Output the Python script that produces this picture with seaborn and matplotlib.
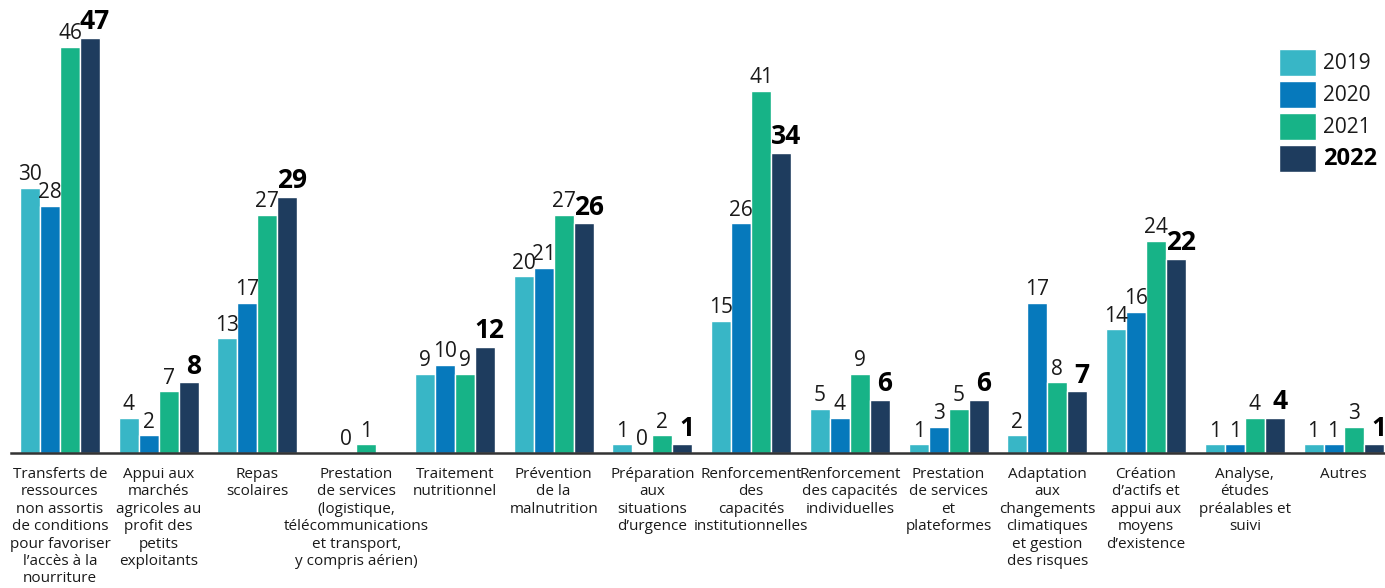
import numpy as np
import pandas as pd
import seaborn as sns
import matplotlib.pyplot as plt

categories = [
    "Transferts de\nressources\nnon assortis\nde conditions\npour favoriser\nl’accès à la\nnourriture",
    "Appui aux\nmarchés\nagricoles au\nprofit des\npetits\nexploitants",
    "Repas\nscolaires",
    "Prestation\nde services\n(logistique,\ntélécommunications\net transport,\ny compris aérien)",
    "Traitement\nnutritionnel",
    "Prévention\nde la\nmalnutrition",
    "Préparation\naux\nsituations\nd’urgence",
    "Renforcement\ndes\ncapacités\ninstitutionnelles",
    "Renforcement\ndes capacités\nindividuelles",
    "Prestation\nde services\net\nplateformes",
    "Adaptation\naux\nchangements\nclimatiques\net gestion\ndes risques",
    "Création\nd’actifs et\nappui aux\nmoyens\nd’existence",
    "Analyse,\nétudes\npréalables et\nsuivi",
    "Autres",
]
years = ["2019", "2020", "2021", "2022"]
v2019 = [30, 4, 13, np.nan, 9, 20, 1, 15, 5, 1, 2, 14, 1, 1]
v2020 = [28, 2, 17, 0, 10, 21, 0, 26, 4, 3, 17, 16, 1, 1]
v2021 = [46, 7, 27, 1, 9, 27, 2, 41, 9, 5, 8, 24, 4, 3]
v2022 = [47, 8, 29, np.nan, 12, 26, 1, 34, 6, 6, 7, 22, 4, 1]
colors = ["#38B6C6", "#0679BC", "#17B387", "#1E3C5E"]

rows = []
for year, vals in zip(years, [v2019, v2020, v2021, v2022]):
    for cat, v in zip(categories, vals):
        rows.append({"cat": cat, "year": year, "value": v})
df = pd.DataFrame(rows)

sns.set_style("white")
plt.rcParams["font.family"] = ["Open Sans", "DejaVu Sans"]
txt = "#1a1a1a"

fig = plt.figure(figsize=(13.85, 5.88), dpi=100)
ax = fig.add_axes([10.6 / 1385, 135 / 588, 1374.4 / 1385, 453 / 588])

sns.barplot(data=df, x="cat", y="value", hue="year", order=categories,
            hue_order=years, palette=colors, width=0.81, gap=0,
            saturation=1, ax=ax, legend=True)

# value labels (NaN bars are not drawn, so read each bar's own height)
for i, cont in enumerate(ax.containers):
    for bar in cont:
        v = bar.get_height()
        if np.isnan(v):
            continue
        x = bar.get_x() + bar.get_width() / 2
        if i == 3:
            ax.text(x + 0.05, v + 0.3, f"{int(v)}", ha="center", va="bottom",
                    fontsize=19, fontweight="bold", color="black")
        else:
            ax.text(x, v + 0.3, f"{int(v)}", ha="center", va="bottom",
                    fontsize=15, color=txt)

ax.set_ylim(0, 51.3)
ax.set_xlim(-0.5, 13.42)
ax.set_xlabel("")
ax.set_ylabel("")
ax.set_yticks([])
ax.tick_params(axis="x", length=0, pad=10, labelsize=11, colors=txt)
for lab in ax.get_xticklabels():
    lab.set_linespacing(1.22)
for s in ["top", "right", "left"]:
    ax.spines[s].set_visible(False)
ax.spines["bottom"].set_color("#333333")
ax.spines["bottom"].set_linewidth(1.8)

leg = ax.legend(loc="upper right", bbox_to_anchor=(1.0, 0.91), frameon=False,
                fontsize=15, handlelength=1.78, handleheight=1.6,
                labelspacing=0.25, handletextpad=0.3, borderaxespad=0)
for t in leg.get_texts():
    t.set_color(txt)
leg.get_texts()[-1].set_fontweight("bold")
leg.get_texts()[-1].set_fontsize(17)
leg.get_texts()[-1].set_color("black")

fig.savefig("out.png", dpi=100)
